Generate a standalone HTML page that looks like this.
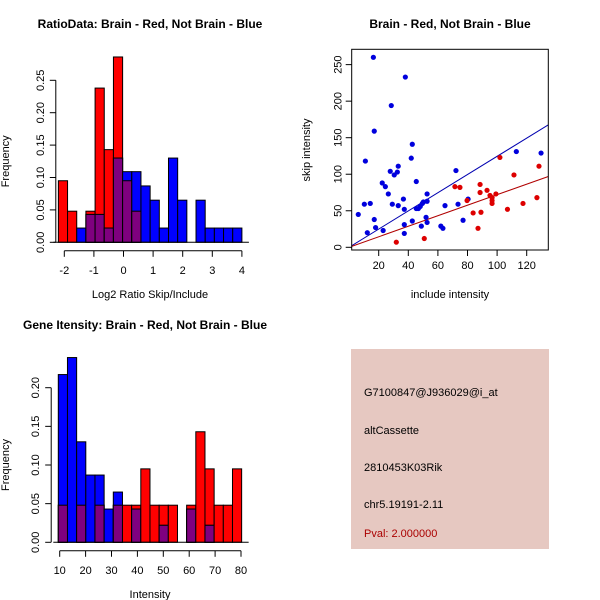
<!DOCTYPE html>
<html><head><meta charset="utf-8">
<style>
body{margin:0;background:#fff;}
svg{display:block;font-family:"Liberation Sans",sans-serif;}
</style></head>
<body>
<svg id="c" width="600" height="600" viewBox="0 0 600 600">
<rect x="0" y="0" width="600" height="600" fill="#fff"/>
<text x="150" y="28" text-anchor="middle" font-weight="bold" font-size="12">RatioData: Brain - Red, Not Brain - Blue</text>
<text x="450" y="28" text-anchor="middle" font-weight="bold" font-size="12">Brain - Red, Not Brain - Blue</text>
<text x="145" y="329" text-anchor="middle" font-weight="bold" font-size="12">Gene Itensity: Brain - Red, Not Brain - Blue</text>
<g>
<rect x="351" y="349" width="198" height="200" fill="#e6c8c1"/>
<text x="364" y="396" font-size="11">G7100847@J936029@i_at</text>
<text x="364" y="434" font-size="11">altCassette</text>
<text x="364" y="471" font-size="11">2810453K03Rik</text>
<text x="364" y="508" font-size="11">chr5.19191-2.11</text>
<text x="364" y="537" font-size="11" fill="#aa0000">Pval: 2.000000</text>
</g>
</svg>
<script>
// Ratio histogram data (20 bins from -2.2 to 4)
const ratioRed = [0.095,0.048,0,0.048,0.238,0.143,0.286,0.095,0.048,0,0,0,0,0,0,0,0,0,0,0];
const ratioBlue = [0,0,0.022,0.043,0.043,0.022,0.13,0.109,0.109,0.087,0.065,0.022,0.13,0.065,0,0.065,0.022,0.022,0.022,0.022];
const ratioXTicks = [-2,-1,0,1,2,3,4];
const ratioYTicks = [0,0.05,0.10,0.15,0.20,0.25];
// Intensity histogram data (20 bins from 9.5 to 80.3)
const intRed = [0.048,0,0.048,0,0.048,0,0.048,0.048,0.048,0.095,0.048,0.048,0.048,0,0.048,0.143,0.095,0.048,0.048,0.095];
const intBlue = [0.217,0.239,0.13,0.087,0.087,0.043,0.065,0,0.043,0,0,0.022,0,0,0.043,0,0.022,0,0,0];
const intXTicks = [10,20,30,40,50,60,70,80];
const intYTicks = [0,0.05,0.10,0.15,0.20];
// Scatter data
const blueX = [6.2,10.3,11,12.3,14.3,16.4,17,17,17.9,22.4,23,24.5,26.5,27.8,28.5,29.2,30.5,32.6,33.2,33.2,36.7,37.3,37.3,37.3,38,42,42.7,42.7,45.4,45.4,46.8,48.1,48.8,49.5,50.2,52,52.7,52.7,52.7,62,63.4,64.8,72.2,73.6,77,80.4,113,129.7];
const blueY = [45,59,118,20,60,260,159,38,27,88,23,83,73,104,194,59,99,103,111,57,66,52,31,19,233,122,141,36,90,53,53,56,29,60,62,41,73,63,34,29,26,57,105,59,37,66,131,129];
const redX = [31.9,50.8,71.5,74.9,79.7,83.8,87.1,88.5,88.5,89.1,93.2,95.2,96.6,96.6,96.6,99.2,101.9,111.4,117.5,107,126.9,128.3];
const redY = [7,12,83,82,64,47,26,86,75,48,78,71,68,64,60,73,123,99,60,52,68,111];
const blueSlope = 1.245, redSlope = 0.72;
const scXTicks = [20,40,60,80,100,120];
const scYTicks = [0,50,100,150,200,250];

const svg = document.getElementById('c');
const NS = 'http://www.w3.org/2000/svg';
function mk(tag, attrs, parent){
  const e = document.createElementNS(NS, tag);
  for (const k in attrs) e.setAttribute(k, attrs[k]);
  (parent||svg).appendChild(e);
  return e;
}
function txt(s, attrs, parent){ const t = mk('text', attrs, parent); t.textContent = s; return t; }

function histogram(o){
  const g = mk('g', {});
  
  
  const n = o.red.length, w = (o.hi - o.lo)/n;
  const X = v => o.x0 + (v - o.xv0)*o.xs;
  const Y = v => o.y0 - v*o.ys;
  for (let i=0;i<n;i++){
    const a = X(o.lo + i*w), b = X(o.lo + (i+1)*w);
    const r = o.red[i], bl = o.blue[i], m = Math.min(r, bl);
    if (r>0){ const e = mk('rect',{x:a,y:Y(r),width:b-a,height:Y(0)-Y(r),fill:'#ff0000',stroke:'#000','stroke-width':1},g);
        }
    if (bl>0){ const e = mk('rect',{x:a,y:Y(bl),width:b-a,height:Y(0)-Y(bl),fill:'#0000ff',stroke:'#000','stroke-width':1},g);
        }
    if (m>0){ const e = mk('rect',{x:a,y:Y(m),width:b-a,height:Y(0)-Y(m),fill:'#7f007f',stroke:'#000','stroke-width':1},g);
        }
  }
  mk('line',{x1:X(o.lo)-5,x2:X(o.hi)+7,y1:Y(0),y2:Y(0),stroke:'#000'},g);
  const ax = o.xt[0], bx = o.xt[o.xt.length-1], ay = o.y0 + 8.5;
  mk('line',{x1:X(ax),x2:X(bx),y1:ay,y2:ay,stroke:'#000'},g);
  o.xt.forEach(t=>{ mk('line',{x1:X(t),x2:X(t),y1:ay,y2:ay+6,stroke:'#000'},g);
    const l = txt(String(t),{x:X(t),y:ay+23,'text-anchor':'middle','font-size':11},g);
      });
  const yx = o.x0 - 8.5;
  mk('line',{x1:yx,x2:yx,y1:Y(o.yt[0]),y2:Y(o.yt[o.yt.length-1]),stroke:'#000'},g);
  o.yt.forEach(t=>{ mk('line',{x1:yx,x2:yx-6,y1:Y(t),y2:Y(t),stroke:'#000'},g);
    const l = txt(t.toFixed(2),{x:yx-12,y:Y(t),'text-anchor':'middle','font-size':11,transform:`rotate(-90 ${yx-12} ${Y(t)})`},g);
      });
  const xl = txt(o.xlab,{x:150,y:ay+47,'text-anchor':'middle','font-size':11},g);
   
  const yc = (Y(0)+Y(o.yt[o.yt.length-1]))/2;
  const yl = txt('Frequency',{x:9,y:yc,'text-anchor':'middle','font-size':11,transform:`rotate(-90 9 ${yc})`},g);
   
}

histogram({name:'ratio-histogram',red:ratioRed,blue:ratioBlue,lo:-2.2,hi:4,xv0:-2,x0:64.3,xs:29.6,y0:242.3,ys:648,xt:ratioXTicks,yt:ratioYTicks,xlab:'Log2 Ratio Skip/Include'});
histogram({name:'intensity-histogram',red:intRed,blue:intBlue,lo:9.46,hi:80.25,xv0:10,x0:59.7,xs:2.59,y0:542.3,ys:773,xt:intXTicks,yt:intYTicks,xlab:'Intensity'});

(function(){
  const g = mk('g',{});
  
  
  const X = v => 349.1 + v*1.48;
  const Y = v => 247.3 - v*0.7307;
  const L=351.7,R=548.3,T=49.3,B=250;
  const cp = mk('clipPath',{id:'scclip'},g);
  mk('rect',{x:L,y:T,width:R-L,height:B-T},cp);
  const lg = mk('g',{'clip-path':'url(#scclip)'},g);
  const xmax = 140;
  const bl = mk('line',{x1:X(0),y1:Y(0),x2:X(xmax),y2:Y(xmax*blueSlope),stroke:'#0000b0','stroke-width':1},lg);
   
  const rl = mk('line',{x1:X(0),y1:Y(0),x2:X(xmax),y2:Y(xmax*redSlope),stroke:'#b00000','stroke-width':1},lg);
   
  blueX.forEach((v,i)=>{ const c = mk('circle',{cx:X(v),cy:Y(blueY[i]),r:2.6,fill:'#0000dd'},g);
      });
  redX.forEach((v,i)=>{ const c = mk('circle',{cx:X(v),cy:Y(redY[i]),r:2.6,fill:'#dd0000'},g);
      });
  mk('rect',{x:L,y:T,width:R-L,height:B-T,fill:'none',stroke:'#000'},g);
  scXTicks.forEach(t=>{ mk('line',{x1:X(t),x2:X(t),y1:B,y2:B+6,stroke:'#000'},g);
    const l = txt(String(t),{x:X(t),y:B+19,'text-anchor':'middle','font-size':11},g);
      });
  scYTicks.forEach(t=>{ mk('line',{x1:L,x2:L-6,y1:Y(t),y2:Y(t),stroke:'#000'},g);
    const l = txt(String(t),{x:L-10,y:Y(t),'text-anchor':'middle','font-size':11,transform:`rotate(-90 ${L-10} ${Y(t)})`},g);
      });
  const xl = txt('include intensity',{x:450,y:298,'text-anchor':'middle','font-size':11},g);
   
  const yl = txt('skip intensity',{x:310,y:150,'text-anchor':'middle','font-size':11,transform:'rotate(-90 310 150)'},g);
   
})();
</script>
</body></html>
